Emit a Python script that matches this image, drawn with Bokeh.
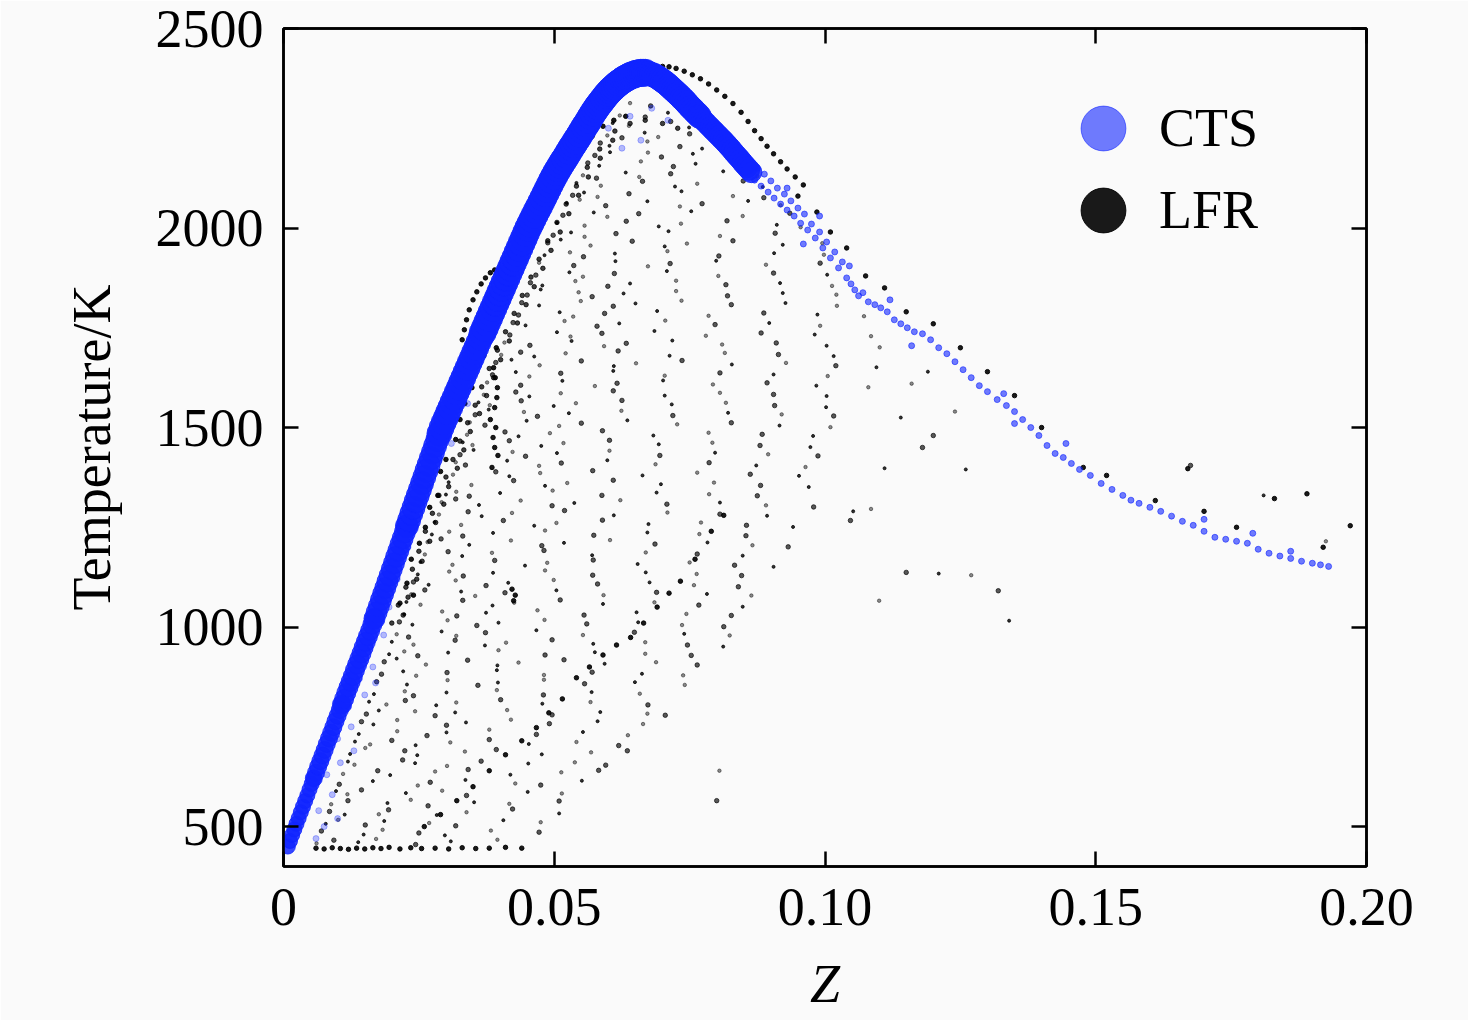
from bokeh.plotting import figure
from bokeh.models import (Range1d, FixedTicker, LinearAxis, Legend, LegendItem)
from bokeh.embed import file_html
from bokeh.resources import INLINE

# ---------------- data ----------------
x_ticks = [0, 0.05, 0.10, 0.15, 0.20]
x_tick_labels = ["0", "0.05", "0.10", "0.15", "0.20"]
y_ticks = [500, 1000, 1500, 2000, 2500]

# CTS: dense band along the rise, over the peak and down to Z ~ 0.086
cts_band_z = [
    0.0008, 0.0012, 0.0016, 0.0020, 0.0024, 0.0028, 0.0032, 0.0036, 0.0040, 0.0044,
    0.0048, 0.0052, 0.0056, 0.0060, 0.0064, 0.0068, 0.0072, 0.0076, 0.0080, 0.0084,
    0.0088, 0.0092, 0.0096, 0.0100, 0.0104, 0.0108, 0.0112, 0.0116, 0.0120, 0.0124,
    0.0128, 0.0132, 0.0136, 0.0140, 0.0144, 0.0148, 0.0152, 0.0156, 0.0160, 0.0164,
    0.0168, 0.0172, 0.0176, 0.0180, 0.0184, 0.0188, 0.0192, 0.0196, 0.0200, 0.0204,
    0.0208, 0.0212, 0.0216, 0.0220, 0.0224, 0.0228, 0.0232, 0.0236, 0.0240, 0.0244,
    0.0248, 0.0252, 0.0256, 0.0260, 0.0264, 0.0268, 0.0272, 0.0276, 0.0280, 0.0284,
    0.0288, 0.0292, 0.0296, 0.0300, 0.0304, 0.0308, 0.0312, 0.0316, 0.0320, 0.0324,
    0.0328, 0.0332, 0.0336, 0.0340, 0.0344, 0.0348, 0.0352, 0.0356, 0.0360, 0.0364,
    0.0368, 0.0372, 0.0376, 0.0380, 0.0384, 0.0388, 0.0392, 0.0396, 0.0400, 0.0404,
    0.0408, 0.0412, 0.0416, 0.0420, 0.0424, 0.0428, 0.0432, 0.0436, 0.0440, 0.0444,
    0.0448, 0.0452, 0.0456, 0.0460, 0.0464, 0.0468, 0.0472, 0.0476, 0.0480, 0.0484,
    0.0488, 0.0492, 0.0496, 0.0500, 0.0504, 0.0508, 0.0512, 0.0516, 0.0520, 0.0524,
    0.0528, 0.0532, 0.0536, 0.0540, 0.0544, 0.0548, 0.0552, 0.0556, 0.0560, 0.0564,
    0.0568, 0.0572, 0.0576, 0.0580, 0.0584, 0.0588, 0.0592, 0.0596, 0.0600, 0.0604,
    0.0608, 0.0612, 0.0616, 0.0620, 0.0624, 0.0628, 0.0632, 0.0636, 0.0640, 0.0644,
    0.0648, 0.0652, 0.0656, 0.0660, 0.0664, 0.0668, 0.0672, 0.0676, 0.0680, 0.0684,
    0.0688, 0.0692, 0.0696, 0.0700, 0.0704, 0.0708, 0.0712, 0.0716, 0.0720, 0.0724,
    0.0728, 0.0732, 0.0736, 0.0740, 0.0744, 0.0748, 0.0752, 0.0756, 0.0760, 0.0764,
    0.0768, 0.0772, 0.0776, 0.0780, 0.0784, 0.0788, 0.0792, 0.0796, 0.0800, 0.0804,
    0.0808, 0.0812, 0.0816, 0.0820, 0.0824, 0.0828, 0.0832, 0.0836, 0.0840, 0.0844,
    0.0848, 0.0852, 0.0856, 0.0860, 0.0864]
cts_band_t = [
    450, 464, 479, 493, 507, 521, 536, 550, 564, 578,
    593, 607, 621, 635, 650, 664, 678, 692, 707, 721,
    735, 749, 764, 778, 792, 806, 820, 835, 849, 863,
    877, 892, 906, 920, 934, 949, 963, 977, 991, 1006,
    1021, 1037, 1052, 1068, 1083, 1098, 1114, 1129, 1145, 1160,
    1176, 1191, 1207, 1222, 1237, 1253, 1268, 1284, 1299, 1315,
    1330, 1345, 1361, 1376, 1392, 1407, 1423, 1438, 1454, 1469,
    1485, 1500, 1513, 1525, 1538, 1550, 1563, 1575, 1588, 1600,
    1613, 1625, 1638, 1650, 1663, 1675, 1688, 1700, 1713, 1725,
    1738, 1750, 1763, 1775, 1788, 1800, 1813, 1825, 1838, 1850,
    1863, 1875, 1888, 1900, 1913, 1925, 1938, 1950, 1963, 1975,
    1988, 2000, 2011, 2022, 2033, 2044, 2054, 2065, 2076, 2087,
    2098, 2109, 2120, 2130, 2140, 2149, 2158, 2167, 2175, 2184,
    2193, 2202, 2210, 2219, 2227, 2236, 2245, 2254, 2262, 2271,
    2280, 2289, 2297, 2305, 2312, 2319, 2326, 2333, 2339, 2345,
    2350, 2355, 2360, 2364, 2368, 2372, 2375, 2378, 2381, 2383,
    2385, 2387, 2388, 2389, 2389, 2389, 2388, 2387, 2385, 2383,
    2380, 2377, 2373, 2369, 2365, 2361, 2356, 2351, 2346, 2341,
    2336, 2331, 2325, 2320, 2314, 2308, 2302, 2297, 2291, 2286,
    2280, 2275, 2269, 2264, 2258, 2253, 2247, 2242, 2236, 2231,
    2225, 2220, 2214, 2208, 2202, 2196, 2189, 2183, 2177, 2171,
    2164, 2158, 2152, 2146, 2140]
# CTS: sparse tail at large Z
cts_tail_z = [0.0870, 0.0875, 0.0882, 0.0888, 0.0895, 0.0900, 0.0906, 0.0912,
              0.0918, 0.0925, 0.0930, 0.0937, 0.0943, 0.0950, 0.0955, 0.0962,
              0.0968, 0.0975, 0.0982, 0.0990, 0.0996, 0.1003, 0.1010, 0.1018,
              0.1025, 0.1032, 0.1040, 0.1048, 0.1055, 0.1062, 0.1070, 0.1080,
              0.1092, 0.1103, 0.1115, 0.1128, 0.1140, 0.1152, 0.1165, 0.1180,
              0.1195, 0.1210, 0.1225, 0.1240, 0.1255, 0.1270, 0.1285, 0.1300,
              0.1318, 0.1335, 0.1350, 0.1365, 0.1380, 0.1395, 0.1410, 0.1425,
              0.1440, 0.1455, 0.1470, 0.1490, 0.1510, 0.1530, 0.1550, 0.1565,
              0.1580, 0.1600, 0.1620, 0.1640, 0.1660, 0.1680, 0.1700, 0.1720,
              0.1740, 0.1760, 0.1780, 0.1800, 0.1820, 0.1840, 0.1860, 0.1880,
              0.1900, 0.1915, 0.1930,
              0.0990, 0.1045, 0.1120, 0.1160, 0.1330, 0.1445, 0.1700, 0.1790,
              0.1860, 0.0930, 0.0960, 0.1350]
cts_tail_t = [2120, 2150, 2105, 2135, 2090, 2118, 2075, 2100, 2060, 2085, 2045,
              2068, 2030, 2050, 2012, 2035, 1995, 2010, 1975, 1990, 1950, 1965,
              1925, 1940, 1900, 1915, 1875, 1860, 1845, 1830, 1838, 1815, 1808,
              1800, 1790, 1770, 1760, 1750, 1740, 1735, 1720, 1700, 1685, 1665,
              1645, 1625, 1605, 1590, 1570, 1555, 1540, 1520, 1500, 1480, 1455,
              1435, 1425, 1410, 1395, 1380, 1360, 1345, 1330, 1318, 1310, 1300,
              1290, 1278, 1265, 1255, 1240, 1225, 1220, 1215, 1210, 1195, 1185,
              1178, 1172, 1165, 1160, 1156, 1152,
              2030, 1905, 1820, 1705, 1585, 1460, 1270, 1235, 1190, 2100, 1960,
              1510]
# CTS: light fringe right of the band and spots inside the peak
cts_halo_z = [0.0060, 0.0065, 0.0075, 0.0090, 0.0100, 0.0080, 0.0105, 0.0100,
              0.0125, 0.0130, 0.0120, 0.0150, 0.0140, 0.0170, 0.0165, 0.0160,
              0.0185, 0.0195, 0.0210, 0.0230, 0.0240, 0.0270, 0.0310, 0.0340,
              0.0600, 0.0640, 0.0680, 0.0710, 0.0660, 0.0625]
cts_halo_t = [470, 540, 500, 580, 520, 630, 660, 720, 750, 690, 800, 830, 870,
              860, 900, 950, 980, 1050, 1120, 1200, 1260, 1350, 1460, 1560,
              2250, 2280, 2300, 2270, 2220, 2200]

# LFR: curves and edges (densest black structures)
lfr_line_z = [
    0.0215, 0.0228, 0.0240, 0.0236, 0.0251, 0.0262, 0.0270, 0.0285, 0.0290,
    0.0300, 0.0318, 0.0326, 0.0335, 0.0348, 0.0355, 0.0370, 0.0378, 0.0392,
    0.0400, 0.0412, 0.0425, 0.0437, 0.0450, 0.0462, 0.0478, 0.0490, 0.0505,
    0.0520, 0.0537, 0.0552, 0.0570, 0.0590, 0.0610, 0.0632,
    0.0385, 0.0396, 0.0390, 0.0392, 0.0382, 0.0390, 0.0395, 0.0388, 0.0393,
    0.0387, 0.0394, 0.0391,
    0.0330, 0.0334, 0.0338, 0.0343, 0.0350, 0.0357, 0.0365, 0.0373, 0.0382,
    0.0390,
    0.0700, 0.0712, 0.0725, 0.0740, 0.0755, 0.0770, 0.0785, 0.0800, 0.0815,
    0.0830, 0.0845, 0.0858, 0.0870, 0.0882, 0.0893, 0.0905, 0.0918, 0.0930,
    0.0945, 0.0960,
    0.0060, 0.0075, 0.0090, 0.0105, 0.0120, 0.0135, 0.0150, 0.0165, 0.0180,
    0.0195, 0.0215, 0.0235, 0.0255, 0.0280, 0.0305, 0.0330, 0.0355, 0.0380,
    0.0410, 0.0440,
    0.0260, 0.0290, 0.0320, 0.0350, 0.0380, 0.0410, 0.0440, 0.0467, 0.0490,
    0.0515, 0.0541, 0.0565, 0.0590, 0.0615, 0.0641, 0.0665, 0.0690, 0.0712,
    0.0733, 0.0760, 0.0790, 0.0813,
    0.0425, 0.0428, 0.0422,
    0.0950, 0.0985, 0.1010, 0.1040, 0.1075, 0.1110, 0.1150, 0.1200, 0.1250,
    0.1300, 0.1350, 0.1400, 0.1477, 0.1520, 0.1610, 0.1670, 0.1700, 0.1760,
    0.1830, 0.1890, 0.1920, 0.1970]
lfr_line_t = [
    1060, 1110, 1080, 1170, 1210, 1250, 1300, 1330, 1390, 1420, 1470, 1520,
    1560, 1600, 1650, 1680, 1720, 1760, 1800, 1840, 1880, 1920, 1950, 1990,
    2030, 2070, 2100, 2140, 2175, 2205, 2230, 2255, 2270, 2280,
    1400, 1430, 1450, 1500, 1520, 1550, 1600, 1650, 1700, 1475, 1575, 1625,
    1720, 1745, 1770, 1795, 1820, 1840, 1860, 1875, 1888, 1895,
    2405, 2404, 2400, 2393, 2384, 2374, 2361, 2346, 2330, 2312, 2290, 2267,
    2244, 2224, 2205, 2186, 2166, 2148, 2128, 2108,
    446, 444, 447, 445, 443, 446, 444, 447, 445, 448, 444, 447, 445, 446, 444,
    447, 445, 446, 448, 446,
    500, 530, 565, 600, 640, 680, 715, 748, 785, 820, 873, 900, 930, 955, 974,
    1010, 1050, 1085, 1115, 1170, 1240, 1280,
    1066, 1080, 1095,
    2080, 2040, 1990, 1950, 1880, 1850, 1790, 1760, 1700, 1640, 1580, 1500,
    1400, 1380, 1317, 1397, 1290, 1250, 1322, 1334, 1200, 1254]

# LFR: dark zone hugging the inner side of the CTS band
lfr_edge_z = [0.0200, 0.0221, 0.0212, 0.0230, 0.0226, 0.0246, 0.0238, 0.0256,
              0.0250, 0.0270, 0.0262, 0.0281, 0.0275, 0.0296, 0.0287, 0.0305,
              0.0300, 0.0321, 0.0313, 0.0333, 0.0326, 0.0345, 0.0340, 0.0362,
              0.0354, 0.0375, 0.0366, 0.0388, 0.0380, 0.0401, 0.0395, 0.0417,
              0.0410, 0.0432, 0.0426, 0.0448, 0.0441, 0.0463, 0.0457, 0.0479,
              0.0472, 0.0494, 0.0488, 0.0511, 0.0505, 0.0527, 0.0522, 0.0545,
              0.0541, 0.0563, 0.0561, 0.0585, 0.0584, 0.0608, 0.0612, 0.0640,
              0.0668, 0.0700, 0.0728]
lfr_edge_t = [1010, 1030, 1055, 1075, 1100, 1120, 1145, 1165, 1190, 1215, 1240,
              1262, 1285, 1308, 1330, 1352, 1376, 1398, 1420, 1444, 1466, 1490,
              1512, 1535, 1556, 1580, 1602, 1625, 1648, 1670, 1694, 1717, 1740,
              1762, 1786, 1808, 1831, 1853, 1877, 1899, 1922, 1944, 1968, 1990,
              2014, 2036, 2060, 2082, 2105, 2128, 2152, 2175, 2198, 2220, 2243,
              2262, 2270, 2262, 2250]

# LFR: scattered points filling the region under the flame curve
lfr_pts = [
    (0.0061, 458), (0.0093, 466), (0.0138, 461), (0.0171, 469), (0.0244, 455), (0.0309, 463), (0.0395, 467),
    (0.0070, 489), (0.0148, 480), (0.0183, 492), (0.0250, 484), (0.0298, 478), (0.0383, 490), (0.0472, 486),
    (0.0078, 507), (0.0101, 517), (0.0151, 504), (0.0186, 514), (0.0269, 509), (0.0318, 502), (0.0406, 516), (0.0475, 511),
    (0.0085, 538), (0.0113, 530), (0.0176, 531), (0.0194, 542), (0.0283, 529), (0.0338, 536), (0.0423, 544), (0.0509, 533),
    (0.0088, 556), (0.0119, 565), (0.0192, 559), (0.0235, 567), (0.0267, 552), (0.0352, 561), (0.0417, 557), (0.0509, 564),
    (0.0097, 589), (0.0118, 581), (0.0144, 592), (0.0226, 584), (0.0293, 590), (0.0338, 578), (0.0451, 587), (0.0514, 583),
    (0.0103, 606), (0.0165, 614), (0.0248, 603), (0.0271, 611), (0.0336, 617), (0.0428, 608), (0.0475, 604), (0.0551, 615),
    (0.0110, 632), (0.0174, 640), (0.0197, 629), (0.0280, 638), (0.0341, 643), (0.0419, 630), (0.0513, 636), (0.0582, 641),
    (0.0119, 663), (0.0131, 655), (0.0220, 667), (0.0243, 659), (0.0302, 652), (0.0365, 664), (0.0452, 658), (0.0538, 661), (0.0595, 654),
    (0.0123, 682), (0.0151, 697), (0.0224, 690), (0.0247, 679), (0.0335, 688), (0.0393, 693), (0.0477, 681), (0.0568, 686), (0.0635, 690),
    (0.0132, 713), (0.0160, 706), (0.0200, 716), (0.0244, 704), (0.0308, 711), (0.0380, 718), (0.0453, 707), (0.0541, 712), (0.0619, 703),
    (0.0139, 732), (0.0210, 739), (0.0265, 728), (0.0301, 736), (0.0380, 743), (0.0467, 731), (0.0553, 737), (0.0636, 729),
    (0.0144, 763), (0.0166, 756), (0.0210, 767), (0.0301, 754), (0.0337, 761), (0.0420, 768), (0.0491, 758), (0.0580, 764), (0.0664, 757),
    (0.0153, 782), (0.0176, 791), (0.0243, 789), (0.0280, 778), (0.0317, 786), (0.0413, 792), (0.0496, 780), (0.0585, 787), (0.0672, 783), (0.0705, 779),
    (0.0158, 813), (0.0190, 806), (0.0225, 816), (0.0282, 804), (0.0319, 811), (0.0401, 818), (0.0478, 808), (0.0567, 812), (0.0673, 805),
    (0.0167, 832), (0.0224, 839), (0.0240, 828), (0.0301, 836), (0.0394, 842), (0.0480, 830), (0.0569, 837), (0.0658, 833),
    (0.0172, 863), (0.0228, 856), (0.0303, 867), (0.0359, 854), (0.0396, 861), (0.0481, 868), (0.0556, 858), (0.0649, 862), (0.0741, 855),
    (0.0181, 882), (0.0221, 889), (0.0245, 878), (0.0302, 886), (0.0394, 892), (0.0481, 880), (0.0570, 887), (0.0662, 883), (0.0738, 879),
    (0.0186, 913), (0.0209, 921), (0.0263, 906), (0.0340, 917), (0.0395, 904), (0.0434, 911), (0.0518, 918), (0.0593, 908), (0.0688, 912), (0.0764, 905),
    (0.0195, 932), (0.0223, 939), (0.0248, 928), (0.0304, 936), (0.0397, 942), (0.0483, 930), (0.0575, 937), (0.0668, 933), (0.0753, 929),
    (0.0200, 963), (0.0240, 956), (0.0317, 967), (0.0372, 954), (0.0411, 961), (0.0496, 968), (0.0572, 958), (0.0668, 962), (0.0746, 955), (0.0812, 951),
    (0.0209, 982), (0.0231, 975), (0.0292, 989), (0.0319, 978), (0.0373, 986), (0.0467, 992), (0.0553, 980), (0.0648, 987), (0.0740, 983), (0.0824, 979),
    (0.0214, 1013), (0.0238, 1006), (0.0303, 1017), (0.0357, 1004), (0.0397, 1011), (0.0482, 1018), (0.0560, 1008), (0.0655, 1012), (0.0736, 1005), (0.0813, 1001),
    (0.0223, 1032), (0.0293, 1039), (0.0320, 1028), (0.0374, 1036), (0.0469, 1042), (0.0555, 1030), (0.0652, 1037), (0.0744, 1033), (0.0827, 1029),
    (0.0227, 1063), (0.0253, 1056), (0.0331, 1067), (0.0386, 1054), (0.0426, 1061), (0.0511, 1068), (0.0590, 1058), (0.0685, 1062), (0.0767, 1055), (0.0848, 1051),
    (0.0236, 1082), (0.0261, 1093), (0.0328, 1089), (0.0354, 1078), (0.0409, 1086), (0.0504, 1092), (0.0591, 1080), (0.0689, 1087), (0.0782, 1083), (0.0864, 1079),
    (0.0240, 1113), (0.0268, 1106), (0.0318, 1117), (0.0374, 1104), (0.0415, 1111), (0.0499, 1118), (0.0580, 1108), (0.0676, 1112), (0.0758, 1105), (0.0840, 1101),
    (0.0248, 1132), (0.0306, 1139), (0.0332, 1128), (0.0387, 1136), (0.0483, 1142), (0.0571, 1130), (0.0669, 1137), (0.0763, 1133), (0.0846, 1129),
    (0.0253, 1163), (0.0312, 1156), (0.0390, 1167), (0.0446, 1154), (0.0487, 1161), (0.0572, 1168), (0.0654, 1158), (0.0750, 1162), (0.0833, 1155), (0.0905, 1151),
    (0.0261, 1182), (0.0304, 1189), (0.0330, 1178), (0.0385, 1186), (0.0481, 1192), (0.0570, 1180), (0.0669, 1187), (0.0764, 1183), (0.0848, 1179),
    (0.0266, 1213), (0.0291, 1221), (0.0343, 1206), (0.0420, 1217), (0.0477, 1204), (0.0518, 1211), (0.0603, 1218), (0.0686, 1208), (0.0783, 1212), (0.0866, 1205), (0.0932, 1201),
    (0.0274, 1232), (0.0306, 1239), (0.0331, 1228), (0.0387, 1236), (0.0483, 1242), (0.0573, 1230), (0.0672, 1237), (0.0768, 1233), (0.0854, 1229),
    (0.0279, 1263), (0.0328, 1256), (0.0406, 1267), (0.0463, 1254), (0.0504, 1261), (0.0589, 1268), (0.0674, 1258), (0.0771, 1262), (0.0855, 1255), (0.0941, 1251),
    (0.0287, 1282), (0.0341, 1289), (0.0366, 1278), (0.0422, 1286), (0.0519, 1292), (0.0610, 1280), (0.0709, 1287), (0.0806, 1283), (0.0893, 1279),
    (0.0292, 1313), (0.0318, 1321), (0.0361, 1306), (0.0438, 1317), (0.0496, 1304), (0.0537, 1311), (0.0622, 1318), (0.0708, 1308), (0.0806, 1312), (0.0891, 1305), (0.0979, 1301),
    (0.0300, 1332), (0.0319, 1339), (0.0343, 1328), (0.0400, 1336), (0.0497, 1342), (0.0588, 1330), (0.0689, 1337), (0.0786, 1333), (0.0875, 1329),
    (0.0305, 1363), (0.0347, 1356), (0.0425, 1367), (0.0483, 1354), (0.0524, 1361), (0.0609, 1368), (0.0697, 1358), (0.0795, 1362), (0.0881, 1355), (0.0970, 1351),
    (0.0313, 1382), (0.0392, 1389), (0.0417, 1378), (0.0474, 1386), (0.0571, 1392), (0.0663, 1380), (0.0764, 1387), (0.0862, 1383), (0.0952, 1379),
    (0.0318, 1413), (0.0336, 1406), (0.0413, 1417), (0.0472, 1404), (0.0513, 1411), (0.0598, 1418), (0.0687, 1408), (0.0786, 1412), (0.0873, 1405), (0.0964, 1401),
    (0.0326, 1432), (0.0351, 1444), (0.0423, 1439), (0.0447, 1428), (0.0505, 1436), (0.0602, 1442), (0.0695, 1430), (0.0797, 1437), (0.0895, 1433), (0.0987, 1429),
    (0.0331, 1463), (0.0349, 1456), (0.0417, 1467), (0.0476, 1454), (0.0517, 1461), (0.0602, 1468), (0.0693, 1458), (0.0792, 1462), (0.0880, 1455), (0.0973, 1451),
    (0.0339, 1482), (0.0409, 1489), (0.0434, 1478), (0.0492, 1486), (0.0589, 1492), (0.0683, 1480), (0.0785, 1487), (0.0884, 1483), (0.0978, 1479),
    (0.0344, 1513), (0.0372, 1506), (0.0449, 1517), (0.0509, 1504), (0.0550, 1511), (0.0635, 1518), (0.0727, 1508), (0.0827, 1512), (0.0916, 1505), (0.1010, 1501),
    (0.0354, 1532), (0.0379, 1545), (0.0444, 1539), (0.0469, 1528), (0.0527, 1536), (0.0624, 1542), (0.0719, 1530), (0.0821, 1537), (0.0920, 1533), (0.1016, 1529),
    (0.0360, 1563), (0.0381, 1556), (0.0439, 1567), (0.0499, 1554), (0.0540, 1561), (0.0625, 1568), (0.0717, 1558), (0.0817, 1562), (0.0907, 1555), (0.1002, 1551),
    (0.0370, 1582), (0.0429, 1589), (0.0454, 1578), (0.0512, 1586), (0.0609, 1592), (0.0704, 1580), (0.0806, 1587), (0.0905, 1583), (0.1003, 1579),
    (0.0376, 1613), (0.0438, 1606), (0.0515, 1617), (0.0575, 1604), (0.0616, 1611), (0.0701, 1618), (0.0793, 1608), (0.0893, 1612), (0.0984, 1605), (0.1080, 1601),
    (0.0386, 1632), (0.0429, 1639), (0.0454, 1628), (0.0512, 1636), (0.0609, 1642), (0.0704, 1630), (0.0806, 1637), (0.0905, 1633), (0.1005, 1629),
    (0.0392, 1663), (0.0421, 1670), (0.0473, 1656), (0.0550, 1667), (0.0610, 1654), (0.0651, 1661), (0.0736, 1668), (0.0828, 1658), (0.0928, 1662), (0.1020, 1655), (0.1095, 1651),
    (0.0402, 1682), (0.0438, 1689), (0.0463, 1678), (0.0521, 1686), (0.0618, 1692), (0.0713, 1680), (0.0815, 1687), (0.0914, 1683), (0.1016, 1679),
    (0.0408, 1713), (0.0455, 1706), (0.0532, 1717), (0.0592, 1704), (0.0633, 1711), (0.0718, 1718), (0.0810, 1708), (0.0910, 1712), (0.1003, 1705), (0.1101, 1701),
    (0.0418, 1732), (0.0505, 1739), (0.0530, 1728), (0.0588, 1736), (0.0685, 1742), (0.0780, 1730), (0.0882, 1737), (0.0981, 1733), (0.1085, 1729),
    (0.0424, 1763), (0.0447, 1756), (0.0519, 1767), (0.0579, 1754), (0.0620, 1761), (0.0705, 1768), (0.0797, 1758), (0.0897, 1762), (0.0991, 1755),
    (0.0434, 1782), (0.0510, 1789), (0.0535, 1778), (0.0593, 1786), (0.0690, 1792), (0.0785, 1780), (0.0887, 1787), (0.0986, 1783), (0.1072, 1779),
    (0.0440, 1813), (0.0472, 1806), (0.0549, 1817), (0.0609, 1804), (0.0650, 1811), (0.0735, 1818), (0.0827, 1808), (0.0927, 1812), (0.1022, 1805),
    (0.0450, 1832), (0.0475, 1846), (0.0545, 1839), (0.0570, 1828), (0.0628, 1836), (0.0725, 1842), (0.0820, 1830), (0.0922, 1837), (0.1021, 1833),
    (0.0456, 1863), (0.0478, 1856), (0.0539, 1867), (0.0599, 1854), (0.0640, 1861), (0.0725, 1868), (0.0817, 1858), (0.0917, 1862), (0.1013, 1855),
    (0.0466, 1882), (0.0528, 1889), (0.0553, 1878), (0.0611, 1886), (0.0708, 1892), (0.0803, 1880), (0.0905, 1887), (0.1004, 1883),
    (0.0472, 1913), (0.0536, 1906), (0.0613, 1917), (0.0673, 1904), (0.0714, 1911), (0.0799, 1918), (0.0891, 1908), (0.0991, 1912),
    (0.0482, 1932), (0.0529, 1939), (0.0554, 1928), (0.0612, 1936), (0.0709, 1942), (0.0804, 1930), (0.0906, 1937), (0.0998, 1933),
    (0.0488, 1963), (0.0512, 1971), (0.0567, 1956), (0.0644, 1967), (0.0704, 1954), (0.0745, 1961), (0.0830, 1968), (0.0922, 1958), (0.0995, 1962),
    (0.0498, 1982), (0.0531, 1989), (0.0556, 1978), (0.0614, 1986), (0.0711, 1992), (0.0806, 1980), (0.0908, 1987),
    (0.0505, 2013), (0.0556, 2006), (0.0633, 2017), (0.0693, 2004), (0.0734, 2011), (0.0819, 2018), (0.0911, 2008), (0.0955, 2002),
    (0.0516, 2032), (0.0573, 2039), (0.0598, 2028), (0.0656, 2036), (0.0753, 2042), (0.0848, 2030), (0.0935, 2037),
    (0.0523, 2063), (0.0547, 2071), (0.0595, 2056), (0.0672, 2067), (0.0732, 2054), (0.0773, 2061), (0.0858, 2068), (0.0918, 2057),
    (0.0534, 2082), (0.0555, 2089), (0.0580, 2078), (0.0638, 2086), (0.0735, 2092), (0.0830, 2080), (0.0887, 2076),
    (0.0541, 2113), (0.0586, 2106), (0.0663, 2117), (0.0723, 2104), (0.0764, 2111), (0.0849, 2118), (0.0885, 2103),
    (0.0553, 2132), (0.0578, 2125), (0.0632, 2139), (0.0657, 2128), (0.0715, 2136), (0.0812, 2142), (0.0875, 2130),
    (0.0562, 2163), (0.0583, 2156), (0.0660, 2167), (0.0720, 2154), (0.0761, 2161), (0.0833, 2168),
    (0.0575, 2182), (0.0603, 2190), (0.0673, 2189), (0.0698, 2178), (0.0756, 2186), (0.0842, 2172),
    (0.0585, 2213), (0.0602, 2206), (0.0672, 2217), (0.0732, 2204), (0.0773, 2199),
    (0.0598, 2232), (0.0625, 2226), (0.0667, 2239), (0.0692, 2228), (0.0750, 2236),
    (0.0608, 2263), (0.0638, 2256), (0.0715, 2267), (0.0749, 2252),
    (0.0621, 2282), (0.0668, 2278), (0.0710, 2289),
    (0.0640, 2313), (0.0678, 2306),
    (0.1140, 1525), (0.1160, 1610), (0.1200, 1480), (0.1260, 1395), (0.1270, 1130), (0.1675, 1405),
    (0.1810, 1330), (0.1925, 1215), (0.1150, 1137), (0.1210, 1134), (0.1100, 1066), (0.1320, 1091),
    (0.1340, 1016), (0.0805, 640), (0.0800, 565), (0.1190, 1640), (0.1240, 1540), (0.1180, 1450),
    (0.1110, 1398), (0.1085, 1296), (0.1047, 1267), (0.1052, 1290),
]
lfr_pts_z = [q[0] for q in lfr_pts]
lfr_pts_t = [q[1] for q in lfr_pts]

# ---------------- figure ----------------
SERIF = "Liberation Serif"
BLUE = "#1024ff"

p = figure(width=1468, height=1020,
           x_range=Range1d(0, 0.2), y_range=Range1d(400, 2500),
           output_backend="svg", toolbar_location=None,
           min_border_left=283, min_border_right=102,
           min_border_top=28, min_border_bottom=154,
           background_fill_color="#fafafa", border_fill_color="#fafafa")
p.grid.visible = False
p.outline_line_color = "black"
p.outline_line_width = 2.5

# LFR (black) drawn first; three dot styles so the cloud looks less uniform
p.scatter(lfr_pts_z[0::3], lfr_pts_t[0::3], size=3.5, color="black", alpha=0.45)
p.scatter(lfr_pts_z[1::3], lfr_pts_t[1::3], size=4.5, color="black", alpha=0.65)
p.scatter(lfr_pts_z[2::3], lfr_pts_t[2::3], size=3, color="black", alpha=0.8)
p.scatter(lfr_edge_z, lfr_edge_t, size=4.5, color="black", alpha=0.75)
r_lfr = p.scatter(lfr_line_z, lfr_line_t, size=4.5, color="black", alpha=0.9)

# CTS (blue)
p.scatter(cts_halo_z, cts_halo_t, size=6, color=BLUE, alpha=0.3)
r_cts = p.scatter(cts_tail_z, cts_tail_t, size=6, color=BLUE, alpha=0.6)
# the band gets thicker with temperature: draw it in stretches of growing size
band_pieces = [(0, 13, 15), (12, 26, 17), (25, 41, 19), (40, 56, 21),
               (55, 71, 23), (70, 91, 25), (90, 166, 27), (165, 191, 24),
               (190, 215, 21)]
for i0, i1, sz in band_pieces:
    p.scatter(cts_band_z[i0:i1], cts_band_t[i0:i1], size=sz, color=BLUE,
              alpha=0.85)

# ---------------- axes ----------------
def style_axis(ax, show_labels=True):
    ax.axis_line_color = "black"
    ax.axis_line_width = 2.5
    ax.major_tick_in = 15
    ax.major_tick_out = 0
    ax.major_tick_line_width = 2.5
    ax.minor_tick_in = 0
    ax.minor_tick_out = 0
    ax.major_label_text_font = SERIF
    ax.axis_label_text_font = SERIF
    ax.axis_label_text_font_size = "54px"
    ax.axis_label_text_font_style = "normal"
    ax.axis_label_text_color = "black"
    if show_labels:
        ax.major_label_text_font_size = "54px"
        ax.major_label_text_color = "black"
    else:
        ax.major_label_text_font_size = "1px"
        ax.major_label_text_color = None
        ax.major_label_standoff = 0

xax = p.xaxis[0]
yax = p.yaxis[0]
xax.ticker = FixedTicker(ticks=x_ticks)
xax.major_label_overrides = {t: s for t, s in zip(x_ticks, x_tick_labels)}
yax.ticker = FixedTicker(ticks=y_ticks)
style_axis(xax)
style_axis(yax)
xax.axis_label = "Z"
xax.axis_label_text_font_style = "italic"
yax.axis_label = "Temperature/K"
xax.major_label_standoff = 22
xax.axis_label_standoff = 26
yax.major_label_standoff = 20
yax.axis_label_standoff = 31

top_ax = LinearAxis(ticker=FixedTicker(ticks=x_ticks))
right_ax = LinearAxis(ticker=FixedTicker(ticks=y_ticks))
style_axis(top_ax, show_labels=False)
style_axis(right_ax, show_labels=False)
p.add_layout(top_ax, "above")
p.add_layout(right_ax, "right")

# ---------------- legend (one box per entry to match the spacing) ----------------
def legend_box(label, renderer, loc):
    return Legend(items=[LegendItem(label=label, renderers=[renderer])],
                  location=loc, glyph_width=112, glyph_height=112,
                  label_standoff=0, padding=0, margin=0, spacing=0,
                  border_line_color=None, background_fill_alpha=0,
                  label_text_font=SERIF, label_text_font_size="54px",
                  label_text_color="black")

p.add_layout(legend_box("CTS", r_cts, (764, 682)))
p.add_layout(legend_box("LFR", r_lfr, (764, 600)))

open("out.html", "w").write(file_html(p, INLINE))
